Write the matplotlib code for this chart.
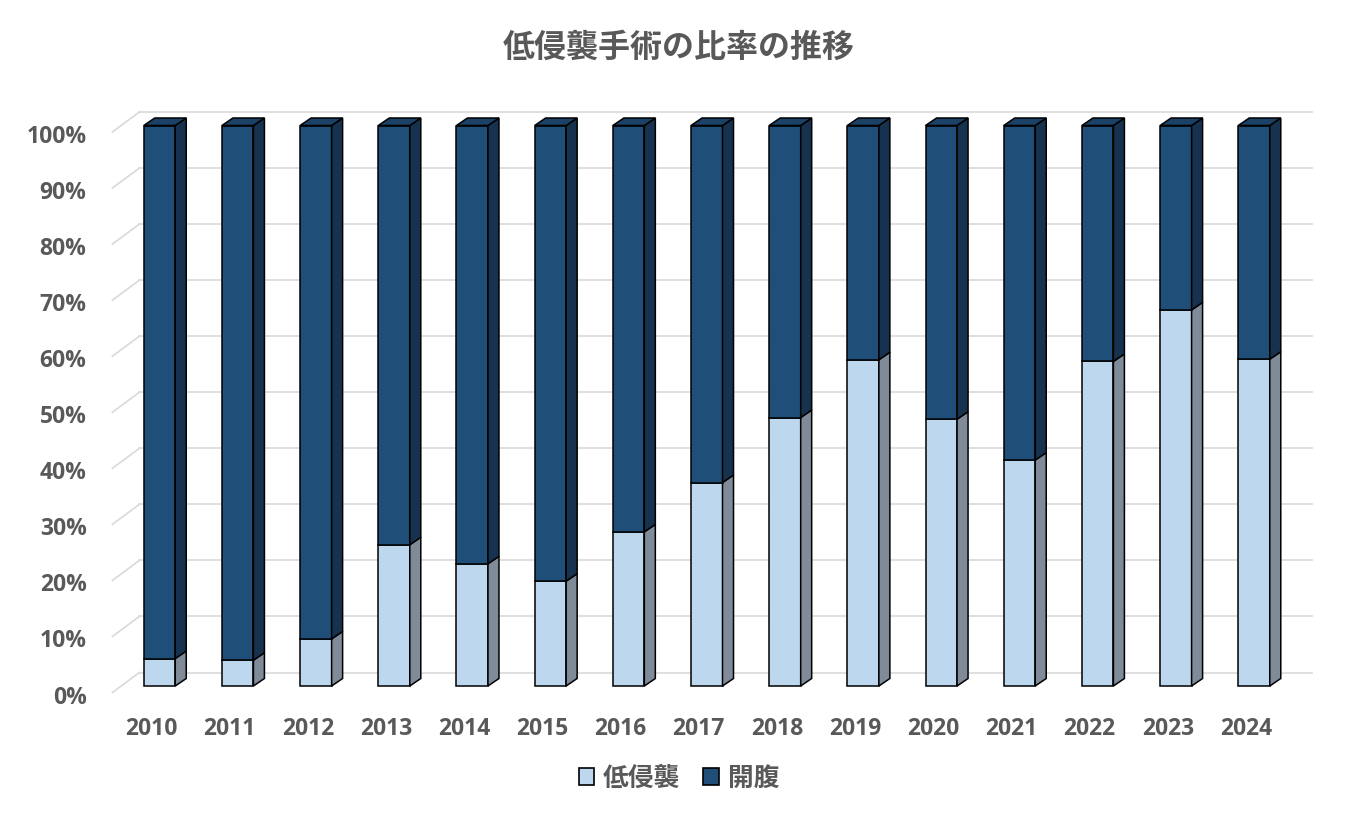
import matplotlib.pyplot as plt
from matplotlib.patches import Polygon, Rectangle

plt.rcParams['font.family'] = ['Noto Sans CJK JP', 'DejaVu Sans']

# data (percent)
years = ['2010', '2011', '2012', '2013', '2014', '2015', '2016', '2017',
         '2018', '2019', '2020', '2021', '2022', '2023', '2024']
minimal = [4.9, 4.6, 8.4, 25.2, 21.8, 18.7, 27.5, 36.3,
           47.9, 58.2, 47.6, 40.3, 57.9, 67.1, 58.3]
open_surgery = [100 - v for v in minimal]
yticks = list(range(0, 101, 10))
labels = ['低侵襲', '開腹']
title = '低侵襲手術の比率の推移'

# colours
light_front, light_side = '#BDD7EE', '#7F8B99'
dark_front, dark_side, dark_top = '#1F4E79', '#17324F', '#1B4166'
grid_c, text_c = '#D9D9D9', '#595959'
tick_font = ['Open Sans', 'Noto Sans CJK JP']

# px -> data helpers (one category = 78.18 px, 1% = 5.605 px)
PX = 1 / 78.18
PY = 1 / 5.605
half_w = 15.75 * PX
side_dx, side_dy = 11 * PX, 7.5 * PY
back_dx, back_dy = 19 * PX, 13.5 * PY
front_dx, front_dy = -8 * PX, -6.5 * PY

fig = plt.figure(figsize=(13.58, 8.26), dpi=100)
ax = fig.add_axes([0, 0, 1, 1])
ax.set_xlim(-159.5 * PX, (1358 - 159.5) * PX)
ax.set_ylim(-(826 - 686) * PY, 686 * PY)
ax.axis('off')

# back wall gridlines + left diagonals
x0, x1 = -0.5, len(years) - 0.5
for t in yticks:
    ax.plot([x0 + back_dx, x1 + back_dx], [t + back_dy, t + back_dy],
            color=grid_c, lw=1.2, zorder=1)
    ax.plot([x0 + front_dx, x0 + back_dx], [t + front_dy, t + back_dy],
            color=grid_c, lw=1.2, zorder=1)
    ax.text(x0 + front_dx - 0.33, t + front_dy - 5 * PY, f'{t}%', ha='right',
            va='center', fontsize=16.5, fontweight='bold', color=text_c,
            family=tick_font)


def box(xc, y0, y1, front, side, top=None):
    l, r = xc - half_w, xc + half_w
    ax.add_patch(Polygon([(l, y0), (r, y0), (r, y1), (l, y1)], closed=True,
                         fc=front, ec='black', lw=1.1, zorder=3))
    ax.add_patch(Polygon([(r, y0), (r + side_dx, y0 + side_dy),
                          (r + side_dx, y1 + side_dy), (r, y1)], closed=True,
                         fc=side, ec='black', lw=1.1, zorder=3))
    if top is not None:
        ax.add_patch(Polygon([(l, y1), (r, y1), (r + side_dx, y1 + side_dy),
                              (l + side_dx, y1 + side_dy)], closed=True,
                             fc=top, ec='black', lw=1.1, zorder=3))


for i, yr in enumerate(years):
    box(i, 0, minimal[i], light_front, light_side)
    box(i, minimal[i], minimal[i] + open_surgery[i], dark_front, dark_side, dark_top)
    ax.text(i + front_dx, front_dy - 6.6, yr, ha='center', va='center',
            fontsize=16.5, fontweight='bold', color=text_c, family=tick_font)

fig.text(0.5, 1 - 48 / 826, title, ha='center', va='center',
         fontsize=23, fontweight='bold', color=text_c)

# legend
handles = [Rectangle((0, 0), 1, 1, fc=c, ec='black', lw=1.2)
           for c in (light_front, dark_front)]
fig.legend(handles, labels, loc='center', bbox_to_anchor=(0.5, 1 - 778 / 826),
           ncol=2, frameon=False, handlelength=0.6, handleheight=0.6,
           handletextpad=0.35, columnspacing=0.9,
           prop={'size': 18.5, 'weight': 'bold'}, labelcolor=text_c)

fig.savefig('out.png', dpi=100)
